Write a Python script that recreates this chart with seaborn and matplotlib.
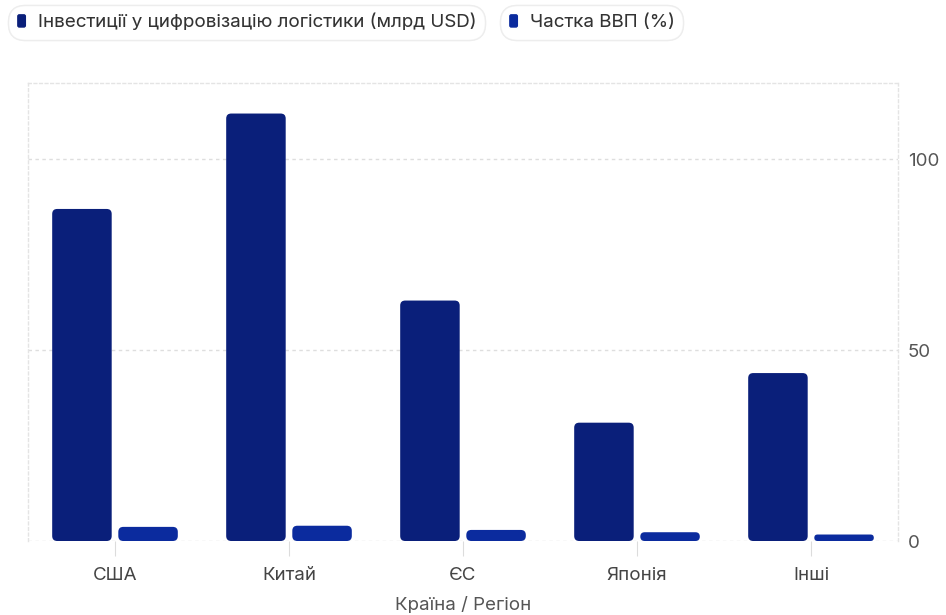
import matplotlib
matplotlib.use("Agg")
import matplotlib.pyplot as plt
from matplotlib.patches import FancyBboxPatch
from matplotlib.legend_handler import HandlerPatch
import seaborn as sns
import pandas as pd

# Дані
regions = ["США", "Китай", "ЄС", "Японія", "Інші"]
investment = [87, 112, 63, 31, 44]          # млрд USD
gdp_share = [3.7, 4.0, 2.9, 2.3, 1.7]       # % ВВП
series_names = ["Інвестиції у цифровізацію логістики (млрд USD)", "Частка ВВП (%)"]
y_ticks = [0, 50, 100]

colors = {series_names[0]: "#0a1f7a", series_names[1]: "#0b2b9e"}

df = pd.DataFrame({
    "Країна / Регіон": regions * 2,
    "value": investment + gdp_share,
    "series": [series_names[0]] * len(regions) + [series_names[1]] * len(regions),
})

sns.set_theme(style="white")
plt.rcParams["font.family"] = ["Inter", "DejaVu Sans"]

W, H, DPI = 946, 615, 100
fig = plt.figure(figsize=(W / DPI, H / DPI), dpi=DPI)
L, R, T, B = 28, 898, 83, 541
ax = fig.add_axes([L / W, 1 - B / H, (R - L) / W, (B - T) / H])

sns.barplot(data=df, x="Країна / Регіон", y="value", hue="series",
            hue_order=series_names, palette=colors, width=0.76, gap=0.1,
            errorbar=None, ax=ax, saturation=1)

ax.set_ylim(0, 120)
ax.set_xlim(-0.5, len(regions) - 0.5)

# Заокруглені кути стовпчиків
ppx = (R - L) / (len(regions))      # пікселів на одиницю x
ppy = (B - T) / 120.0               # пікселів на одиницю y
radius_px = 5.0
for bar in list(ax.patches):
    x, y = bar.get_x(), bar.get_y()
    w, h = bar.get_width(), bar.get_height()
    fc = bar.get_facecolor()
    bar.remove()
    r = min(radius_px, h * ppy / 2, w * ppx / 2)
    rb = FancyBboxPatch((x, y), w, h,
                        boxstyle=f"round,pad=0,rounding_size={r / ppx}",
                        mutation_aspect=ppx / ppy,
                        facecolor=fc, edgecolor="none", zorder=3)
    ax.add_patch(rb)

# Сітка та рамка
grid_kw = dict(color="#dedede", linewidth=1.0, linestyle=(0, (2.5, 2.5)))
for yv in y_ticks:
    ax.axhline(yv, zorder=1, **grid_kw)
for side in ["top", "left", "right"]:
    ax.spines[side].set_visible(True)
    ax.spines[side].set_color("#e4e4e4")
    ax.spines[side].set_linestyle((0, (2, 2)))
    ax.spines[side].set_linewidth(1.0)
ax.spines["bottom"].set_visible(False)

ax.yaxis.tick_right()
ax.set_yticks(y_ticks)
ax.tick_params(axis="y", length=0, pad=7, labelsize=13.5, labelcolor="#555555")
ax.tick_params(axis="x", length=11, width=0.8, color="#dcdcdc", pad=8,
               labelsize=13.5, labelcolor="#444444", bottom=True)
ax.set_ylabel("")
ax.set_xlabel("Країна / Регіон", fontsize=13.5, color="#555555", labelpad=9)

# Легенда
ax.get_legend().remove()


def rounded_handle(legend, orig_handle, xdescent, ydescent, width, height, fontsize):
    return FancyBboxPatch((-xdescent, -ydescent), width, height,
                          boxstyle="round,pad=0,rounding_size=2")


handles = [plt.Rectangle((0, 0), 1, 1, facecolor=colors[s]) for s in series_names]
anchors = [(8 / W, 1 - 5 / H), (500 / W, 1 - 5 / H)]
for hd, name, anc in zip(handles, series_names, anchors):
    leg = fig.legend([hd], [name], loc="upper left", bbox_to_anchor=anc,
                     frameon=True, fontsize=13.5, handlelength=0.55,
                     handleheight=0.85, handletextpad=0.6, borderpad=0.45,
                     borderaxespad=0,
                     handler_map={plt.Rectangle: HandlerPatch(patch_func=rounded_handle)})
    fr = leg.get_frame()
    fr.set_boxstyle("round,pad=0,rounding_size=0.9")
    fr.set_edgecolor("#ececec")
    fr.set_linewidth(1.0)
    fr.set_facecolor("white")
    for t in leg.get_texts():
        t.set_color("#333333")
    fig.add_artist(leg)

fig.savefig("out.png", dpi=DPI, facecolor="white")
